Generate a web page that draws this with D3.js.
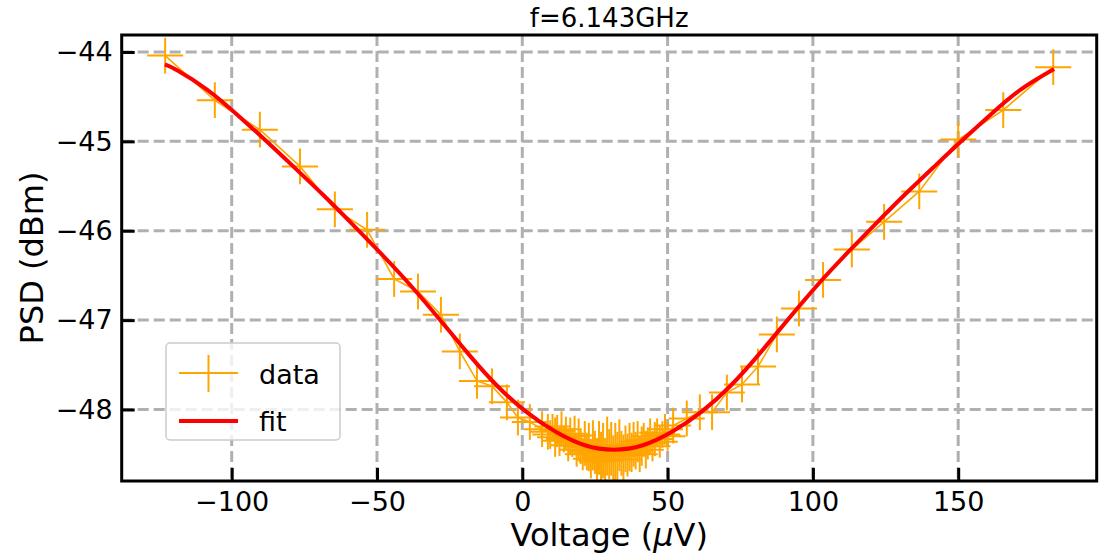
<!DOCTYPE html>
<html>
<head>
<meta charset="utf-8">
<script src="https://cdn.jsdelivr.net/npm/d3@7"></script>
<style>
  body { margin: 0; background: #fff; }
  svg { display: block; }
  text { font-family: "DejaVu Sans", sans-serif; fill: #000; }
</style>
</head>
<body>
<svg id="chart" width="1099" height="554"></svg>
<script>
// Measured noise power vs. bias voltage
const voltage = [
  -122.9, -105.8, -90.3, -76.5, -64.5, -53.4, -44.1, -35.9, -28.0, -21.5,
  -15.6, -10.4, -5.3, -1.5, 2.6, 6.8, 8.8,
  9.6, 10.4, 11.3, 12.0, 12.8, 13.5, 14.3, 15.0, 15.8, 16.5,
  17.2, 18.0, 18.7, 19.4, 20.1, 20.8, 21.5, 22.2, 22.9, 23.6,
  24.3, 25.0, 25.7, 26.4, 27.1, 27.8, 28.5, 29.2, 29.9, 30.6,
  31.3, 32.0, 32.7, 33.4, 34.1, 34.8, 35.5, 36.2, 36.9, 37.6,
  38.3, 39.0, 39.7, 40.4, 41.1, 41.8, 42.5, 43.2, 44.0, 44.8,
  45.6, 46.4, 47.3, 48.2, 49.1, 50.0,
  51.9, 56.6, 61.1, 65.3, 70.4, 75.6, 81.1, 87.6, 95.2, 103.5,
  113.4, 124.5, 136.6, 150.0, 165.5, 182.7
];
const psd = [
  -44.04, -44.54, -44.87, -45.28, -45.76, -45.99, -46.54, -46.68, -46.94, -47.35,
  -47.68, -47.74, -47.92, -48.09, -48.14, -48.22, -48.25,
  -48.28, -48.19, -48.31, -48.24, -48.35, -48.22, -48.33, -48.27, -48.40, -48.30,
  -48.37, -48.29, -48.45, -48.34, -48.41, -48.50, -48.38, -48.47, -48.42, -48.55,
  -48.40, -48.48, -48.58, -48.43, -48.52, -48.46, -48.57, -48.41, -48.50, -48.44,
  -48.55, -48.47, -48.52, -48.40, -48.49, -48.56, -48.44, -48.51, -48.42, -48.48,
  -48.39, -48.46, -48.36, -48.50, -48.41, -48.34, -48.45, -48.38, -48.30, -48.41,
  -48.33, -48.26, -48.36, -48.28, -48.22, -48.30,
  -48.18, -48.10, -48.03, -48.03, -47.81, -47.72, -47.52, -47.16, -46.87, -46.55,
  -46.21, -45.90, -45.56, -44.98, -44.65, -44.17
];
const psdErr = [
  0.20, 0.20, 0.20, 0.20, 0.20, 0.20, 0.20, 0.20, 0.20, 0.20,
  0.20, 0.20, 0.20, 0.20, 0.20, 0.20, 0.20,
  0.16, 0.14, 0.22, 0.18, 0.17, 0.20, 0.15, 0.19, 0.18, 0.21,
  0.16, 0.22, 0.19, 0.24, 0.20, 0.18, 0.25, 0.21, 0.27, 0.22,
  0.28, 0.24, 0.26, 0.30, 0.27, 0.31, 0.25, 0.33, 0.28, 0.30,
  0.26, 0.32, 0.27, 0.29, 0.25, 0.28, 0.26, 0.24, 0.27, 0.22,
  0.25, 0.21, 0.23, 0.20, 0.22, 0.19, 0.21, 0.18, 0.20, 0.17,
  0.19, 0.16, 0.18, 0.15, 0.17, 0.16,
  0.20, 0.20, 0.20, 0.20, 0.20, 0.20, 0.20, 0.20, 0.20, 0.20,
  0.20, 0.20, 0.20, 0.20, 0.20, 0.20
];
const voltErr = 6.2;

// Fitted model curve (symmetric about ~31.5 µV)
const fitVoltage = [
  -123, -118.5, -108.5, -98.5, -88.5, -78.5, -68.5, -58.5, -48.5, -38.5,
  -28.5, -18.5, -8.5, 1.5, 11.5, 21.5, 31.5, 41.5, 51.5, 61.5,
  71.5, 81.5, 91.5, 101.5, 111.5, 121.5, 131.5, 141.5, 151.5, 161.5,
  171.5, 183
];
const fitPsd = [
  -44.14, -44.21, -44.42, -44.69, -44.985, -45.29, -45.60, -45.925, -46.26, -46.61,
  -46.99, -47.38, -47.74, -48.03, -48.25, -48.40, -48.45, -48.40, -48.25, -48.03,
  -47.74, -47.38, -46.99, -46.61, -46.26, -45.925, -45.60, -45.29, -44.985, -44.69,
  -44.42, -44.19
];

const xTicks = [-100, -50, 0, 50, 100, 150];
const yTicks = [-48, -47, -46, -45, -44];
const titleText = "f=6.143GHz";

const plot = { left: 121.7, right: 1096.7, top: 35, bottom: 481 };
const svg = d3.select("#chart");

const x = d3.scaleLinear().domain([-137.85, 197.66]).range([plot.left, plot.right]);
const y = d3.scaleLinear().domain([-48.80, -43.81]).range([plot.bottom, plot.top]);

const orange = "#FFA500";
const fmt = d3.format("");

svg.append("defs").append("clipPath").attr("id", "plotClip")
  .append("rect")
  .attr("x", plot.left).attr("y", plot.top)
  .attr("width", plot.right - plot.left).attr("height", plot.bottom - plot.top);

// grid
const grid = svg.append("g").attr("stroke", "#b0b0b0").attr("stroke-width", 3)
  .attr("stroke-dasharray", "11,5");
grid.selectAll(".gx").data(xTicks).join("line")
  .attr("x1", d => x(d)).attr("x2", d => x(d))
  .attr("y1", plot.top).attr("y2", plot.bottom);
grid.selectAll(".gy").data(yTicks).join("line")
  .attr("y1", d => y(d)).attr("y2", d => y(d))
  .attr("x1", plot.left).attr("x2", plot.right);

// data with error bars
const points = voltage.map((v, i) => ({ v, p: psd[i], e: psdErr[i] }));
const marks = svg.append("g").attr("clip-path", "url(#plotClip)");

marks.append("path")
  .datum(points)
  .attr("fill", "none")
  .attr("stroke", orange)
  .attr("stroke-width", 1.6)
  .attr("d", d3.line().x(d => x(d.v)).y(d => y(d.p)));

const bars = marks.append("g").attr("stroke", orange).attr("stroke-width", 2);
bars.selectAll(".xb").data(points).join("line")
  .attr("x1", d => x(d.v - voltErr)).attr("x2", d => x(d.v + voltErr))
  .attr("y1", d => y(d.p)).attr("y2", d => y(d.p));
bars.selectAll(".yb").data(points).join("line")
  .attr("x1", d => x(d.v)).attr("x2", d => x(d.v))
  .attr("y1", d => y(d.p - d.e)).attr("y2", d => y(d.p + d.e));

// fit curve
const fitPts = fitVoltage.map((v, i) => ({ v, p: fitPsd[i] }));
marks.append("path")
  .datum(fitPts)
  .attr("fill", "none")
  .attr("stroke", "#ff0000")
  .attr("stroke-width", 4)
  .attr("stroke-linejoin", "round")
  .attr("d", d3.line().x(d => x(d.v)).y(d => y(d.p)).curve(d3.curveNatural));

// axes with inward ticks
const xAxis = svg.append("g").attr("transform", `translate(0,${plot.bottom})`)
  .call(d3.axisBottom(x).tickValues(xTicks).tickSize(-13).tickPadding(11).tickFormat(fmt));
const yAxis = svg.append("g").attr("transform", `translate(${plot.left},0)`)
  .call(d3.axisLeft(y).tickValues(yTicks).tickSize(-13).tickPadding(9).tickFormat(fmt));
[xAxis, yAxis].forEach(g => {
  g.select(".domain").remove();
  g.selectAll(".tick line").attr("stroke", "#000").attr("stroke-width", 3);
  g.selectAll(".tick text").attr("font-size", 27).attr("font-family", "DejaVu Sans");
});

// frame
svg.append("rect")
  .attr("x", plot.left).attr("y", plot.top)
  .attr("width", plot.right - plot.left).attr("height", plot.bottom - plot.top)
  .attr("fill", "none").attr("stroke", "#000").attr("stroke-width", 3);

// labels
const xl = svg.append("text")
  .attr("x", (plot.left + plot.right) / 2).attr("y", 546)
  .attr("text-anchor", "middle").attr("font-size", 32);
xl.append("tspan").text("Voltage (");
xl.append("tspan").attr("font-style", "italic").text("μ");
xl.append("tspan").text("V)");

svg.append("text")
  .attr("transform", `translate(43,${(plot.top + plot.bottom) / 2}) rotate(-90)`)
  .attr("text-anchor", "middle").attr("font-size", 32)
  .text("PSD (dBm)");

svg.append("text")
  .attr("x", (plot.left + plot.right) / 2).attr("y", 27)
  .attr("text-anchor", "middle").attr("font-size", 26)
  .text(titleText);

// legend
const lg = svg.append("g");
lg.append("rect")
  .attr("x", 166).attr("y", 343).attr("width", 174).attr("height", 97).attr("rx", 4)
  .attr("fill", "#fff").attr("fill-opacity", 0.8)
  .attr("stroke", "#cccccc").attr("stroke-width", 1.5);
lg.append("line").attr("x1", 179).attr("x2", 238).attr("y1", 373).attr("y2", 373)
  .attr("stroke", orange).attr("stroke-width", 2);
lg.append("line").attr("x1", 208.5).attr("x2", 208.5).attr("y1", 355).attr("y2", 392)
  .attr("stroke", orange).attr("stroke-width", 2);
lg.append("text").attr("x", 259).attr("y", 384).attr("font-size", 27).text("data");
lg.append("line").attr("x1", 179).attr("x2", 238).attr("y1", 421).attr("y2", 421)
  .attr("stroke", "#ff0000").attr("stroke-width", 4);
lg.append("text").attr("x", 259).attr("y", 431).attr("font-size", 27).text("fit");
</script>
</body>
</html>
